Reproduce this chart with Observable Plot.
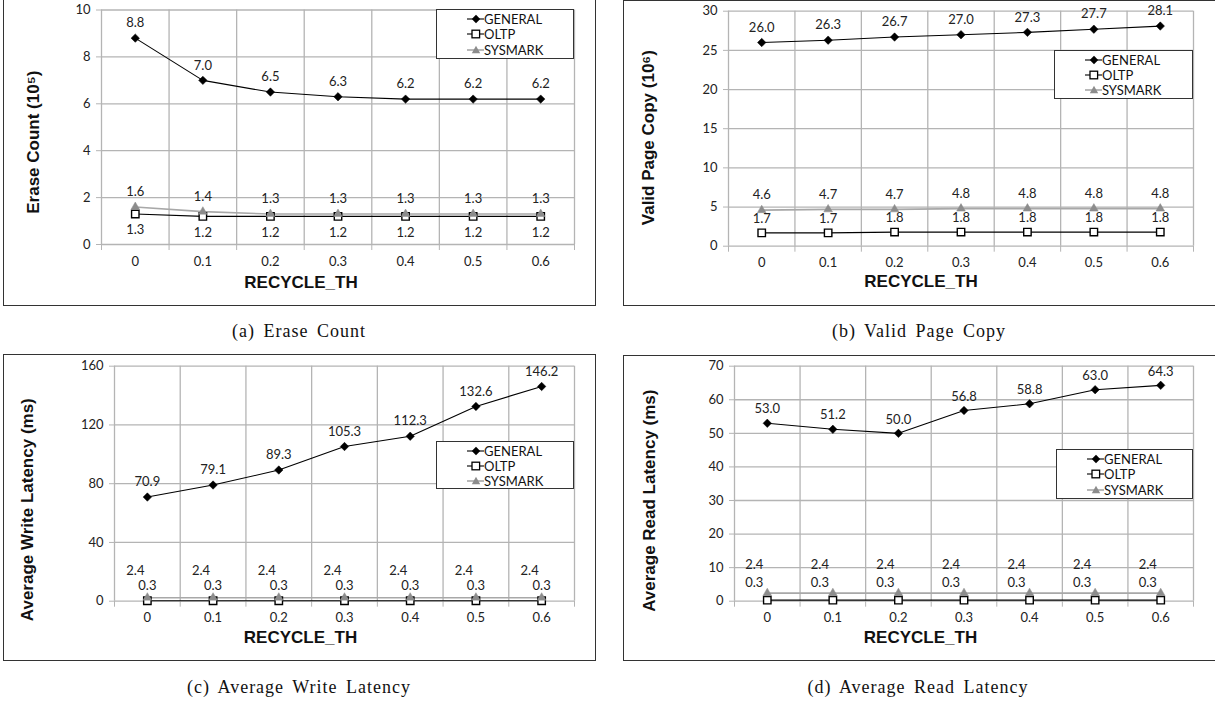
<!DOCTYPE html>
<html>
<head>
<meta charset="utf-8">
<script src="https://cdn.jsdelivr.net/npm/d3@7"></script>
<script src="https://cdn.jsdelivr.net/npm/@observablehq/plot@0.6"></script>
<style>
  html, body { margin: 0; padding: 0; background: #fff; }
  #root { position: relative; width: 1215px; height: 702px; overflow: hidden; background: #fff; }
  .frame { position: absolute; border: 1px solid #333; box-sizing: border-box; }
  .panel { position: absolute; }
  .panel svg { overflow: visible; display: block; }
  .legend { position: absolute; border: 1px solid #333; background: #fff; box-sizing: border-box;
            font-family: Lato, "Noto Sans", sans-serif; font-size: 13px; color: #111; padding-left: 30px; }
  .legend .row { height: 16px; display: flex; align-items: center; white-space: nowrap; }
  .legend svg { display: block; }
  .caption { position: absolute; font-family: "Liberation Serif", serif; font-size: 18px; color: #111;
             letter-spacing: 1px; word-spacing: 3px; white-space: nowrap; transform: translate(-50%, -50%); }
</style>
</head>
<body>
<div id="root"></div>
<script>
// ---------- data ----------
const recycleTh = ["0", "0.1", "0.2", "0.3", "0.4", "0.5", "0.6"];
const seriesNames = ["GENERAL", "OLTP", "SYSMARK"];

const eraseGeneral = [8.8, 7.0, 6.5, 6.3, 6.2, 6.2, 6.2];
const eraseOltp    = [1.3, 1.2, 1.2, 1.2, 1.2, 1.2, 1.2];
const eraseSysmark = [1.6, 1.4, 1.3, 1.3, 1.3, 1.3, 1.3];
const eraseTicks   = [0, 2, 4, 6, 8, 10];

const copyGeneral = [26.0, 26.3, 26.7, 27.0, 27.3, 27.7, 28.1];
const copyOltp    = [1.7, 1.7, 1.8, 1.8, 1.8, 1.8, 1.8];
const copySysmark = [4.6, 4.7, 4.7, 4.8, 4.8, 4.8, 4.8];
const copyTicks   = [0, 5, 10, 15, 20, 25, 30];

const writeGeneral = [70.9, 79.1, 89.3, 105.3, 112.3, 132.6, 146.2];
const writeOltp    = [0.3, 0.3, 0.3, 0.3, 0.3, 0.3, 0.3];
const writeSysmark = [2.4, 2.4, 2.4, 2.4, 2.4, 2.4, 2.4];
const writeTicks   = [0, 40, 80, 120, 160];

const readGeneral = [53.0, 51.2, 50.0, 56.8, 58.8, 63.0, 64.3];
const readOltp    = [0.3, 0.3, 0.3, 0.3, 0.3, 0.3, 0.3];
const readSysmark = [2.4, 2.4, 2.4, 2.4, 2.4, 2.4, 2.4];
const readTicks   = [0, 10, 20, 30, 40, 50, 60, 70];

const xTitle = "RECYCLE_TH";
const yTitles = ["Erase Count (10\u2075)", "Valid Page Copy (10\u2076)", "Average Write Latency (ms)", "Average Read Latency (ms)"];
const captions = ["(a) Erase Count", "(b) Valid Page Copy", "(c) Average Write Latency", "(d) Average Read Latency"];

// ---------- styles ----------
const FONT = "Lato, 'Noto Sans', sans-serif";
const TITLE_FONT = "'Liberation Sans', Arial, sans-serif";
const GRID = "#b4b4b4";
const SYS_LINE = "#a8a8a8";
const SYS_FILL = "#8c8c8c";

const root = document.getElementById("root");

function buildPanel(cfg) {
  const n = recycleTh.length;
  const idx = d3.range(n);
  const bounds = d3.range(n + 1).map(k => k - 0.5);
  const rows = (vals, s) => vals.map((v, i) => ({i, v, s}));
  const G = rows(cfg.gen, seriesNames[0]);
  const O = rows(cfg.oltp, seriesNames[1]);
  const S = rows(cfg.sys, seriesNames[2]);
  const fmt = d => d.v.toFixed(1);

  const chart = Plot.plot({
    width: cfg.width,
    height: cfg.height,
    marginLeft: cfg.mL, marginRight: cfg.mR, marginTop: cfg.mT, marginBottom: cfg.mB,
    x: {domain: [-0.5, n - 0.5]},
    y: {domain: [cfg.yTicks[0], cfg.yTicks[cfg.yTicks.length - 1]]},
    style: {fontFamily: FONT, fontSize: "13px", background: "transparent", color: "#222", overflow: "visible"},
    marks: [
      Plot.ruleY(cfg.yTicks, {stroke: GRID, strokeWidth: 1.3}),
      Plot.ruleX(bounds, {stroke: GRID, strokeWidth: 1.3}),
      Plot.axisY(cfg.yTicks, {tickSize: 5, tickPadding: 6, stroke: GRID, fill: "#222", label: null, fontSize: 13}),
      Plot.axisX(bounds, {tickSize: 6, tickFormat: () => "", stroke: GRID, label: null}),
      Plot.axisX(idx, {tickSize: 0, tickPadding: 12, tickFormat: i => recycleTh[i], fill: "#222", label: null, fontSize: 13}),
      Plot.line(G, {x: "i", y: "v", stroke: "#000", strokeWidth: 1.1}),
      Plot.line(O, {x: "i", y: "v", stroke: "#000", strokeWidth: 1.2}),
      Plot.line(S, {x: "i", y: "v", stroke: SYS_LINE, strokeWidth: 1.6}),
      Plot.dot(G, {x: "i", y: "v", symbol: "diamond2", r: 3.8, fill: "#000", stroke: "#000", strokeWidth: 0.5}),
      Plot.dot(O, {x: "i", y: "v", symbol: "square", r: 4.2, fill: "#fff", stroke: "#000", strokeWidth: 1.4}),
      Plot.dot(S, {x: "i", y: "v", symbol: "triangle", r: 3.2, fill: SYS_FILL, stroke: SYS_FILL, strokeWidth: 0.5}),
      Plot.text(G, {x: "i", y: "v", text: fmt, dx: cfg.lab.g[0], dy: cfg.lab.g[1], fill: "#222", fontSize: 13}),
      Plot.text(O, {x: "i", y: "v", text: fmt, dx: cfg.lab.o[0], dy: cfg.lab.o[1], fill: "#222", fontSize: 13}),
      Plot.text(S, {x: "i", y: "v", text: fmt, dx: cfg.lab.s[0], dy: cfg.lab.s[1], fill: "#222", fontSize: 13}),
      Plot.text([xTitle], {frameAnchor: "bottom", text: d => d, dx: cfg.xt[0], dy: cfg.xt[1],
        fontFamily: TITLE_FONT, fontWeight: "bold", fontSize: 17, fill: "#111"}),
      Plot.text([cfg.yTitle], {frameAnchor: "left", textAnchor: "middle", text: d => d, rotate: -90, dx: cfg.yt[0], dy: cfg.yt[1],
        fontFamily: TITLE_FONT, fontWeight: "bold", fontSize: 17, fill: "#111"})
    ]
  });

  const frame = document.createElement("div");
  frame.className = "frame";
  Object.assign(frame.style, {left: cfg.left + "px", top: cfg.top + "px", width: cfg.frameW + "px", height: cfg.height + "px"});
  root.appendChild(frame);

  const wrap = document.createElement("div");
  wrap.className = "panel";
  Object.assign(wrap.style, {left: cfg.left + "px", top: cfg.top + "px"});
  wrap.appendChild(chart);
  root.appendChild(wrap);

  // legend
  const lg = document.createElement("div");
  lg.className = "legend";
  Object.assign(lg.style, {left: cfg.legend[0] + "px", top: cfg.legend[1] + "px", width: cfg.legend[2] + "px", height: cfg.legend[3] + "px",
    paddingTop: "1px"});
  const markers = [
    `<line x1="0" y1="6" x2="17" y2="6" stroke="#000" stroke-width="1.1"/><path d="M9,1.8L13.2,6L9,10.2L4.8,6Z" fill="#000"/>`,
    `<line x1="0" y1="6" x2="17" y2="6" stroke="#000" stroke-width="1.1"/><rect x="5" y="2.2" width="7.6" height="7.6" fill="#fff" stroke="#000" stroke-width="1.3"/>`,
    `<line x1="0" y1="6" x2="17" y2="6" stroke="${SYS_LINE}" stroke-width="1.6"/><path d="M9,1.8L13.2,9.3L4.8,9.3Z" fill="${SYS_FILL}"/>`
  ];
  seriesNames.forEach((name, k) => {
    const r = document.createElement("div");
    r.className = "row";
    r.style.height = (cfg.legend[3] - 3) / 3 + "px";
    r.innerHTML = `<svg width="17" height="12">${markers[k]}</svg><span>${name}</span>`;
    lg.appendChild(r);
  });
  root.appendChild(lg);

  const cap = document.createElement("div");
  cap.className = "caption";
  cap.textContent = cfg.caption;
  Object.assign(cap.style, {left: cfg.cap[0] + "px", top: cfg.cap[1] + "px"});
  root.appendChild(cap);
}

buildPanel({
  left: 3, top: -1, width: 593, frameW: 593, height: 307, mL: 98, mR: 22, mT: 10.5, mB: 62,
  yTicks: eraseTicks, yTitle: yTitles[0], gen: eraseGeneral, oltp: eraseOltp, sys: eraseSysmark,
  lab: {g: [0, -15], o: [0, 16], s: [0, -15]},
  xt: [-37, 43], yt: [-68, 15],
  legend: [436, 9, 138, 50], caption: captions[0], cap: [299, 331]
});
buildPanel({
  left: 623, top: 0, width: 592, frameW: 600, height: 306, mL: 105, mR: 22, mT: 10.7, mB: 60.3,
  yTicks: copyTicks, yTitle: yTitles[1], gen: copyGeneral, oltp: copyOltp, sys: copySysmark,
  lab: {g: [0, -15], o: [0, -14], s: [0, -15]},
  xt: [-40, 41], yt: [-80, 9],
  legend: [1054, 50, 139, 49], caption: captions[1], cap: [919, 331]
});
buildPanel({
  left: 3, top: 354, width: 593, frameW: 593, height: 307, mL: 111, mR: 22, mT: 11.7, mB: 60.3,
  yTicks: writeTicks, yTitle: yTitles[2], gen: writeGeneral, oltp: writeOltp, sys: writeSysmark,
  lab: {g: [0, -15], o: [0, -15], s: [-12, -27]},
  xt: [-44, 42], yt: [-87, 26],
  legend: [436, 441, 138, 48], caption: captions[2], cap: [299, 687]
});
buildPanel({
  left: 623, top: 355, width: 592, frameW: 600, height: 306, mL: 111, mR: 22, mT: 10.7, mB: 60.3,
  yTicks: readTicks, yTitle: yTitles[3], gen: readGeneral, oltp: readOltp, sys: readSysmark,
  lab: {g: [0, -14], o: [-13, -17], s: [-13, -28]},
  xt: [-43.5, 42], yt: [-85, 17],
  legend: [1056, 449, 137, 50], caption: captions[3], cap: [918, 687]
});
</script>
</body>
</html>
